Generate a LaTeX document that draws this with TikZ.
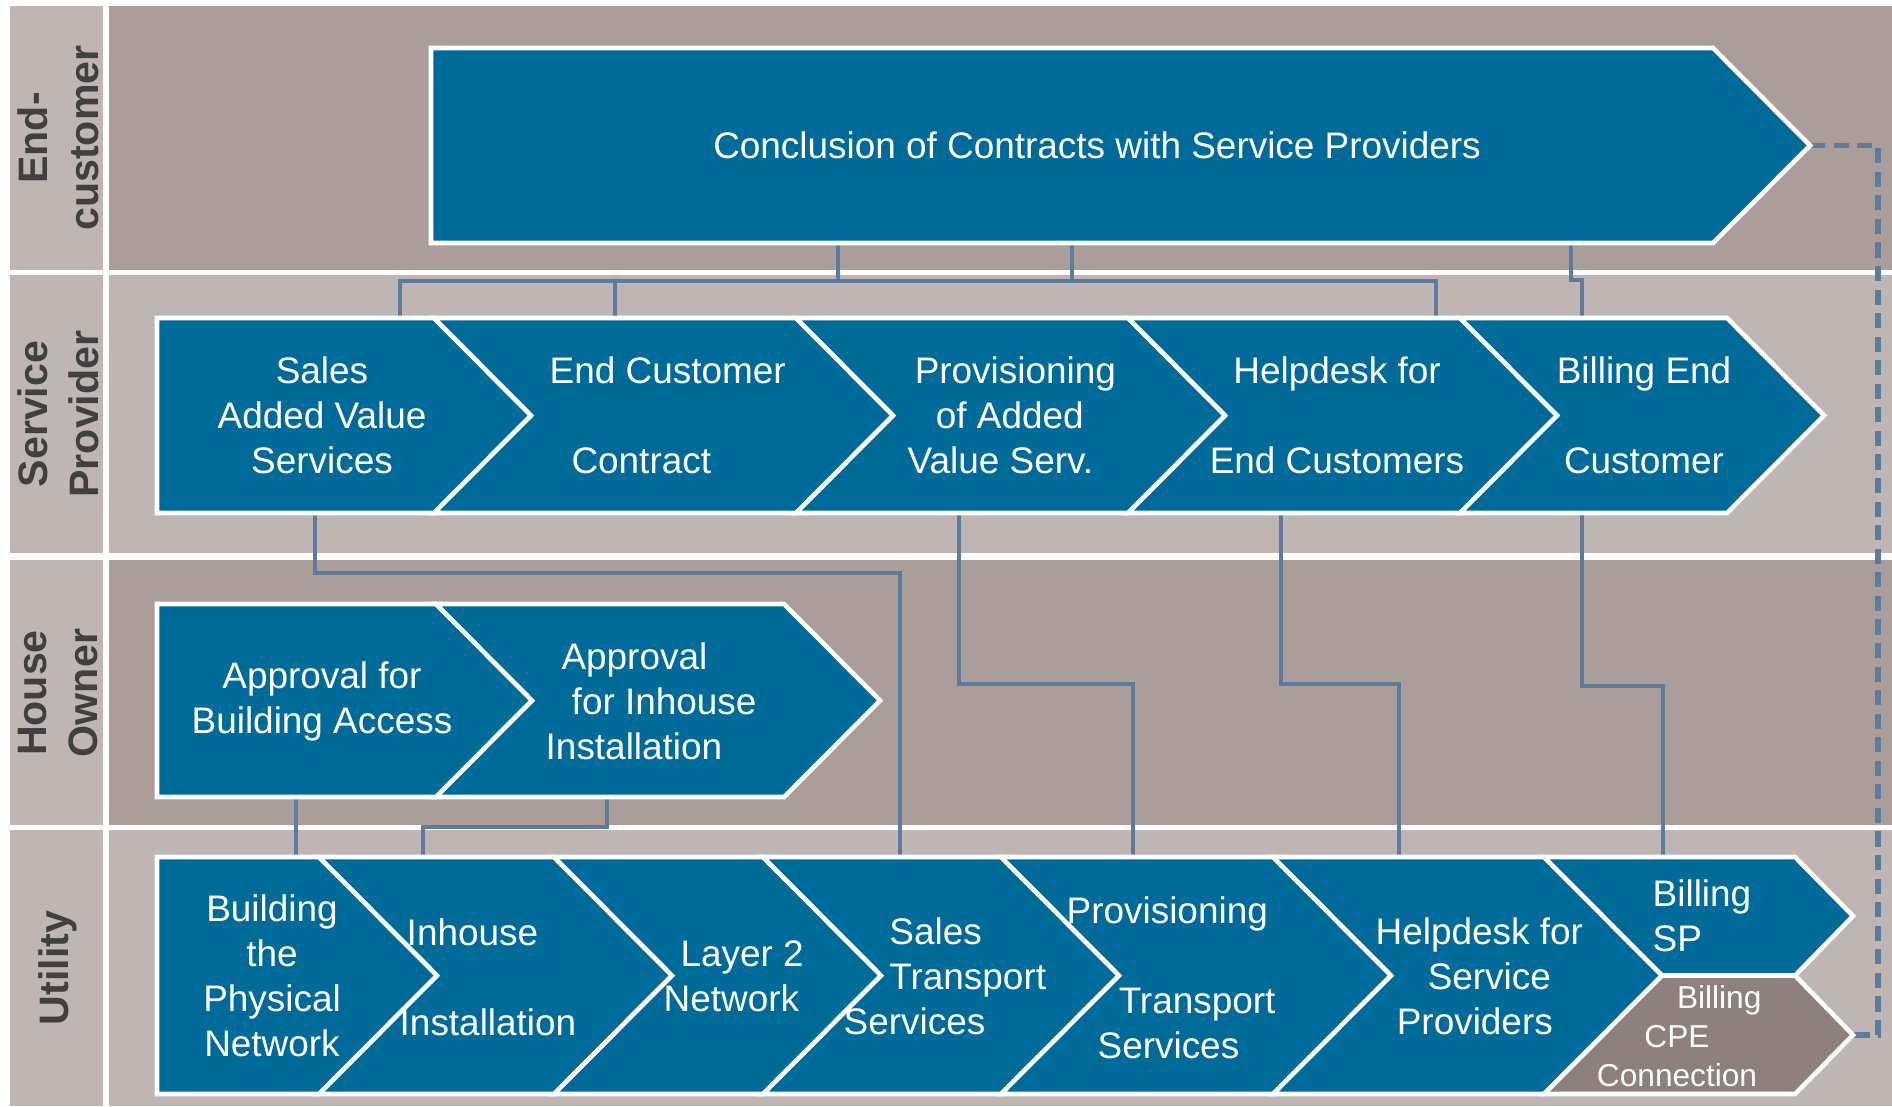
\documentclass[tikz,border=0pt]{standalone}
\usepackage{fontspec}
\setmainfont{Liberation Sans}
\usetikzlibrary{positioning}
\definecolor{chevblue}{HTML}{006A99}
\definecolor{lanedark}{HTML}{AB9E9A}
\definecolor{lanelight}{HTML}{BFB5B2}
\definecolor{linkblue}{HTML}{5D7B9D}
\definecolor{cpegray}{HTML}{8E807C}
\definecolor{labelgray}{HTML}{404040}
\tikzset{
  chev/.style={fill=chevblue,draw=white,line width=1.3pt},
  cpe/.style={chev,fill=cpegray},
  txt/.style={text=white,inner sep=0pt,font=\fontsize{10.5}{12.8}\selectfont,align=center},
  lanename/.style={rotate=90,text=labelgray,inner sep=0pt,font=\fontsize{11.7}{14.4}\selectfont\bfseries,align=center},
  link/.style={draw=linkblue,line width=1.25pt},
}
\begin{document}
\begin{tikzpicture}[x=0.01cm,y=-0.01cm]
      \useasboundingbox (0,0) rectangle (1892,1106);
      \fill[white] (0,0) rectangle (1892,1106);
      % swim lanes
      \fill[lanelight] (10,6) rectangle (103,270);
      \fill[lanedark] (109,6) rectangle (1892,270);
      \fill[lanelight] (10,275) rectangle (103,553);
      \fill[lanelight] (109,275) rectangle (1892,553);
      \fill[lanelight] (10,560) rectangle (103,825);
      \fill[lanedark] (109,560) rectangle (1892,825);
      \fill[lanelight] (10,830) rectangle (103,1106);
      \fill[lanelight] (109,830) rectangle (1892,1106);
      \node[lanename] (endcust) at (58,138) {End-\\customer};
      \node[lanename] (servprov) at (58,414) {Service\\Provider};
      \node[lanename] (houseown) at (58,693) {House\\Owner};
      \node[lanename] (utility) at (58,968) {Utility};
      % ports
      \coordinate (ccs-s1) at (838,243);
      \coordinate (ccs-s2) at (1072,243);
      \coordinate (ccs-s3) at (1571,243);
      \coordinate (ccs-e) at (1810,145.5);
      \coordinate (sav-n) at (400,318);
      \coordinate (ecc-n) at (615,318);
      \coordinate (hec-n) at (1436,318);
      \coordinate (bec-n) at (1582,318);
      \coordinate (sav-s) at (315,513);
      \coordinate (pav-s) at (959,513);
      \coordinate (hec-s) at (1281,513);
      \coordinate (bec-s) at (1582,513);
      \coordinate (abd-s) at (296,797);
      \coordinate (aii-s) at (607,797);
      \coordinate (bpn-n) at (296,857);
      \coordinate (ihi-n) at (423,857);
      \coordinate (sts-n) at (900,857);
      \coordinate (pts-n) at (1133,857);
      \coordinate (hsp-n) at (1399,857);
      \coordinate (bsp-n) at (1663,857);
      \coordinate (bcc-e) at (1853,1035);
      % connectors
      \draw[link] (ccs-s1) -- ++(0,38) -| (sav-n);
      \draw[link] (ccs-s2) -- ++(0,38) -| (ecc-n);
      \draw[link] (ccs-s2) -- ++(0,38) -| (hec-n);
      \draw[link] (ccs-s3) -- ++(0,37) -| (bec-n);
      \draw[link] (sav-s) -- ++(0,60) -| (sts-n);
      \draw[link] (pav-s) -- ++(0,171) -| (pts-n);
      \draw[link] (hec-s) -- ++(0,171) -| (hsp-n);
      \draw[link] (bec-s) -- ++(0,173) -| (bsp-n);
      \draw[link] (abd-s) -- (bpn-n);
      \draw[link] (aii-s) -- ++(0,30) -| (ihi-n);
      \draw[link,line width=1.45pt,dash pattern=on 4.3pt off 2.4pt] (ccs-e) -- ++(68,0) |- (bcc-e);
      % end customer
      \filldraw[chev] (431,48) -- (1713,48) -- (1810,145.5) -- (1713,243) -- (431,243) -- cycle;
      % service provider
      \filldraw[chev] (157,318) -- (434,318) -- (531,415.5) -- (434,513) -- (157,513) -- cycle;
      \filldraw[chev] (434,318) -- (796,318) -- (893,415.5) -- (796,513) -- (434,513) -- (531,415.5) -- cycle;
      \filldraw[chev] (796,318) -- (1128,318) -- (1225,415.5) -- (1128,513) -- (796,513) -- (893,415.5) -- cycle;
      \filldraw[chev] (1128,318) -- (1460,318) -- (1557,415.5) -- (1460,513) -- (1128,513) -- (1225,415.5) -- cycle;
      \filldraw[chev] (1460,318) -- (1727,318) -- (1824,415.5) -- (1727,513) -- (1460,513) -- (1557,415.5) -- cycle;
      % house owner
      \filldraw[chev] (157,604) -- (436,604) -- (532,700.5) -- (436,797) -- (157,797) -- cycle;
      \filldraw[chev] (436,604) -- (784,604) -- (880,700.5) -- (784,797) -- (436,797) -- (532,700.5) -- cycle;
      % utility
      \filldraw[chev] (157,857) -- (319,857) -- (437,975.5) -- (319,1094) -- (157,1094) -- cycle;
      \filldraw[chev] (319,857) -- (554,857) -- (672,975.5) -- (554,1094) -- (319,1094) -- (437,975.5) -- cycle;
      \filldraw[chev] (554,857) -- (763,857) -- (881,975.5) -- (763,1094) -- (554,1094) -- (672,975.5) -- cycle;
      \filldraw[chev] (763,857) -- (1001,857) -- (1119,975.5) -- (1001,1094) -- (763,1094) -- (881,975.5) -- cycle;
      \filldraw[chev] (1001,857) -- (1273,857) -- (1391,975.5) -- (1273,1094) -- (1001,1094) -- (1119,975.5) -- cycle;
      \filldraw[chev] (1273,857) -- (1544,857) -- (1662,975.5) -- (1544,1094) -- (1273,1094) -- (1391,975.5) -- cycle;
      \filldraw[chev] (1544,857) -- (1795,857) -- (1853,916) -- (1795,975.5) -- (1662,975.5) -- cycle;
      \filldraw[cpe] (1662,975.5) -- (1795,975.5) -- (1853,1035) -- (1795,1094) -- (1544,1094) -- cycle;
      % texts
      \node[txt] (ccs) at (1097,145) {Conclusion of Contracts with Service Providers};
      \node[txt] (sav) at (322,415) {Sales\\Added Value\\Services};
      \node[txt,align=left,anchor=west] (ecc) at (549,415) {End Customer\\[12.8pt]\hspace*{6.2pt}Contract};
      \node[txt,align=left,anchor=west] (pav) at (907,415) {\hspace*{2pt}Provisioning\\\hspace*{8pt}of Added\\Value Serv.};
      \node[txt] (hec) at (1337,415) {Helpdesk for\\[12.8pt]End Customers};
      \node[txt] (bec) at (1644,415) {Billing End\\[12.8pt]Customer};
      \node[txt] (abd) at (322,701) {Approval for\\Building Access};
      \node[txt,align=left,anchor=west] (aii) at (545,701) {\hspace*{4.5pt}Approval\\\hspace*{7.4pt}for Inhouse\\Installation};
      \node[txt] (bpn) at (272,976) {Building\\the\\Physical\\Network};
      \node[txt,align=left,anchor=west] (ihi) at (399,977) {\hspace*{2pt}Inhouse\\[12.8pt]Installation};
      \node[txt,align=left,anchor=west] (l2n) at (663,976) {\hspace*{4.8pt}Layer 2\\Network};
      \node[txt,align=left,anchor=west] (sts) at (843,976) {\hspace*{13pt}Sales\\\hspace*{13pt}Transport\\Services};
      \node[txt,align=left,anchor=west] (pts) at (1066,978) {Provisioning\\[12.8pt]\hspace*{14.8pt}Transport\\\hspace*{8.8pt}Services};
      \node[txt,align=left,anchor=west] (hsp) at (1375,976) {Helpdesk for\\\hspace*{14.8pt}Service\\\hspace*{6pt}Providers};
      \node[txt,align=left,anchor=west] (bsp) at (1652,916) {Billing\\SP};
      \node[txt,font=\fontsize{9}{11}\selectfont] (bcc) at (1677,1036) {\hspace*{24pt}Billing\\CPE\\Connection};
    \end{tikzpicture}
\end{document}
